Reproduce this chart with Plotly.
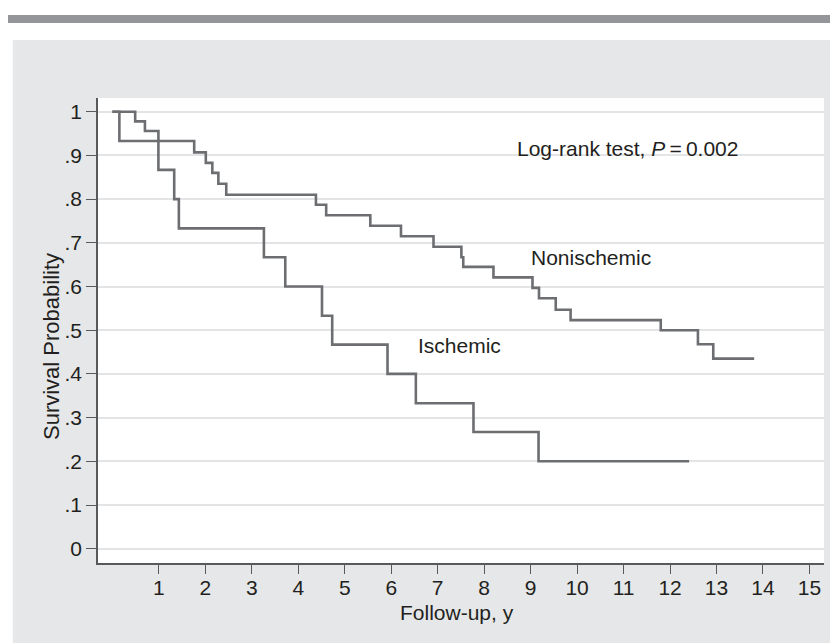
import plotly.graph_objects as go

# Kaplan-Meier step data (time in years, survival probability)
noni_time = [0, 0.49, 0.70, 0.99, 1.76, 2.01, 2.15, 2.28, 2.45, 4.38, 4.60, 5.55, 6.21,
             6.91, 7.51, 7.55, 8.20, 9.04, 9.18, 9.54, 9.86, 11.80, 12.60, 12.93, 13.81]
noni_surv = [1.0, 0.978, 0.956, 0.933, 0.907, 0.883, 0.860, 0.835, 0.810, 0.787, 0.763, 0.739, 0.715,
             0.691, 0.667, 0.645, 0.621, 0.597, 0.573, 0.547, 0.523, 0.500, 0.468, 0.435, 0.435]

isch_time = [0, 0.15, 0.99, 1.33, 1.43, 3.26, 3.72, 4.51, 4.73, 5.92, 6.53, 7.77, 9.17, 12.41]
isch_surv = [1.0, 0.933, 0.867, 0.800, 0.733, 0.667, 0.600, 0.533, 0.467, 0.400, 0.333, 0.267, 0.200, 0.200]

x_ticks = list(range(1, 16))
y_ticks = [0, 0.1, 0.2, 0.3, 0.4, 0.5, 0.6, 0.7, 0.8, 0.9, 1.0]
y_tick_labels = ["0", ".1", ".2", ".3", ".4", ".5", ".6", ".7", ".8", ".9", "1"]

FONT = "Liberation Sans, Arial, Helvetica, sans-serif"
TXT = "#231f20"
LINE = "#6d6e71"
AX = "#58595b"

fig = go.Figure()
fig.add_trace(go.Scatter(x=noni_time, y=noni_surv, mode="lines", line=dict(shape="hv", color=LINE, width=2.6),
                         name="Nonischemic", showlegend=False, hoverinfo="skip"))
fig.add_trace(go.Scatter(x=isch_time, y=isch_surv, mode="lines", line=dict(shape="hv", color=LINE, width=2.6),
                         name="Ischemic", showlegend=False, hoverinfo="skip"))

# page body has an 8px margin: the figure starts at (8, 8) of the window
O = 8
W, H = 838 - O, 643 - O
L, R, T, B = 98 - O, 824 - O, 98 - O, 563 - O
pw, ph = R - L, B - T

def px(xp):
    return (xp - O - L) / pw

def py(yp):
    return (B - (yp - O)) / ph

fig.update_layout(
    width=W, height=H,
    margin=dict(l=L, r=W - R, t=T, b=H - B),
    paper_bgcolor="#e6e7e8",
    plot_bgcolor="white",
    font=dict(family=FONT, size=21, color=TXT),
    showlegend=False,
    xaxis=dict(range=[-0.31, 15.313], tickvals=x_ticks, ticks="outside", ticklen=9, tickwidth=1.3,
               tickcolor=AX, showline=True, linecolor=AX, linewidth=1.6, showgrid=False, zeroline=False,
               tickfont=dict(size=21, color=TXT), ticklabelstandoff=-4, fixedrange=True),
    yaxis=dict(range=[-0.0327, 1.0314], tickvals=y_ticks, ticktext=y_tick_labels, ticks="outside",
               ticklen=10, tickwidth=1.3, tickcolor=AX, showline=True, linecolor=AX, linewidth=1.6,
               showgrid=True, gridcolor="#e3e4e5", gridwidth=1.5, zeroline=False,
               tickfont=dict(size=21, color=TXT), fixedrange=True),
    shapes=[
        dict(type="rect", xref="paper", yref="paper", x0=px(0), x1=px(850), y0=py(40), y1=py(0),
             fillcolor="white", line=dict(width=0), layer="above"),
        dict(type="rect", xref="paper", yref="paper", x0=px(0), x1=px(12.8), y0=py(650), y1=py(0),
             fillcolor="white", line=dict(width=0), layer="above"),
        dict(type="rect", xref="paper", yref="paper", x0=px(4), x1=px(850), y0=py(23), y1=py(15),
             fillcolor="#939598", line=dict(width=0), layer="above"),
    ],
    annotations=[
        dict(x=8.66, y=0.915, xref="x", yref="y", text="Log-rank test, <i>P</i>\u2009=\u20090.002",
             showarrow=False, xanchor="left", yanchor="middle", font=dict(size=21, color=TXT)),
        dict(x=8.97, y=0.666, xref="x", yref="y", text="Nonischemic",
             showarrow=False, xanchor="left", yanchor="middle", font=dict(size=21, color=TXT)),
        dict(x=6.53, y=0.464, xref="x", yref="y", text="Ischemic",
             showarrow=False, xanchor="left", yanchor="middle", font=dict(size=21, color=TXT)),
        dict(x=px(457), y=py(612), xref="paper", yref="paper", text="Follow-up, y",
             showarrow=False, xanchor="center", yanchor="middle", font=dict(size=21, color=TXT)),
        dict(x=px(51), y=py(347), xref="paper", yref="paper", text="Survival Probability", textangle=-90,
             showarrow=False, xanchor="center", yanchor="middle", font=dict(size=22, color=TXT)),
    ],
)

fig.write_html("out.html")
